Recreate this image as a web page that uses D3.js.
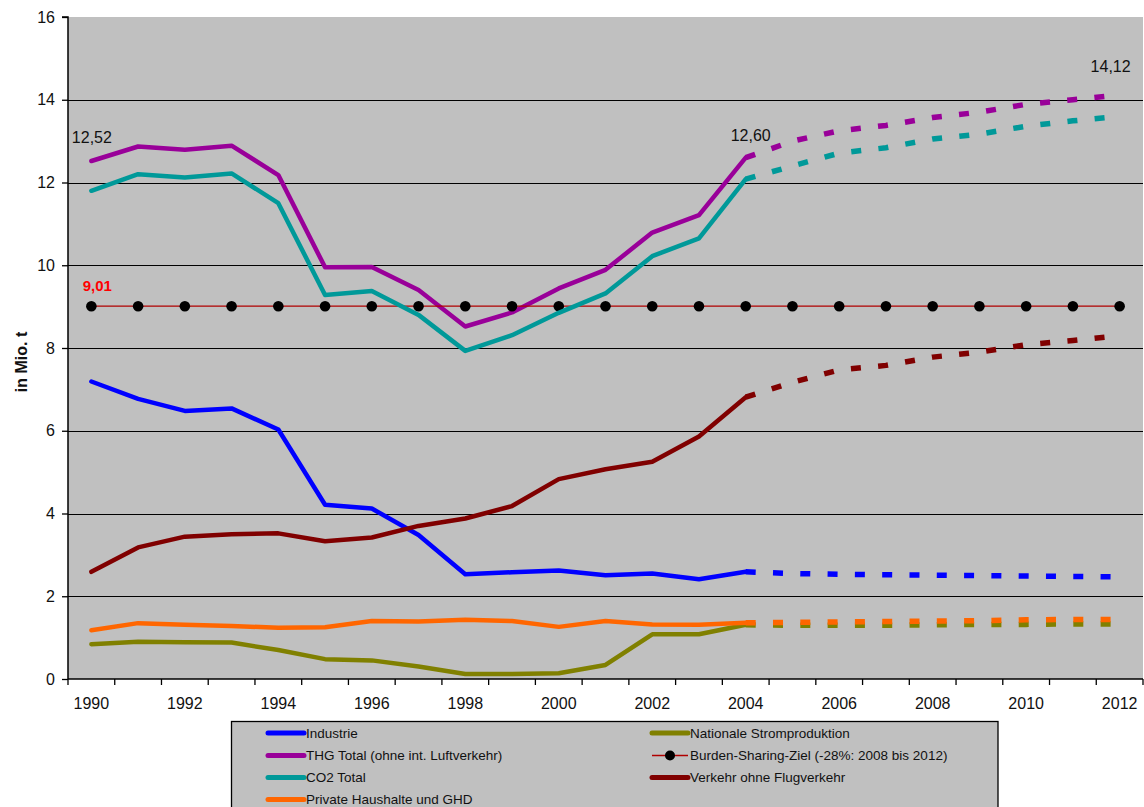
<!DOCTYPE html>
<html>
<head>
<meta charset="utf-8">
<script src="https://cdn.jsdelivr.net/npm/d3@7"></script>
<style>
  html, body { margin: 0; padding: 0; background: #ffffff; }
  svg { display: block; font-family: "Liberation Sans", Arial, sans-serif; }
</style>
</head>
<body>
<svg id="chart" width="1144" height="807"></svg>
<script>
// ---------------- DATA ----------------
const years = [1990,1991,1992,1993,1994,1995,1996,1997,1998,1999,2000,2001,2002,2003,2004,2005,2006,2007,2008,2009,2010,2011,2012];
const histYears = [1990,1991,1992,1993,1994,1995,1996,1997,1998,1999,2000,2001,2002,2003,2004];
const projYears = [2004,2005,2006,2007,2008,2009,2010,2011,2012];
const xTickLabels = [1990,1992,1994,1996,1998,2000,2002,2004,2006,2008,2010,2012];
const yTicks = [0,2,4,6,8,10,12,14,16];

const industrie = [7.19,6.77,6.48,6.54,6.03,4.21,4.12,3.48,2.53,2.58,2.62,2.51,2.55,2.41,2.59];
const strom     = [0.84,0.90,0.89,0.88,0.70,0.48,0.45,0.30,0.12,0.12,0.14,0.34,1.08,1.08,1.31];
const thg       = [12.52,12.87,12.79,12.89,12.18,9.95,9.96,9.40,8.52,8.86,9.44,9.89,10.79,11.21,12.60];
const co2       = [11.80,12.20,12.12,12.22,11.50,9.28,9.38,8.80,7.93,8.31,8.85,9.32,10.22,10.65,12.08];
const verkehr   = [2.59,3.18,3.44,3.50,3.52,3.33,3.42,3.70,3.88,4.18,4.83,5.07,5.25,5.86,6.81];
const privat    = [1.18,1.35,1.31,1.28,1.24,1.25,1.40,1.39,1.43,1.40,1.26,1.40,1.32,1.31,1.36];
const burden    = [9.01,9.01,9.01,9.01,9.01,9.01,9.01,9.01,9.01,9.01,9.01,9.01,9.01,9.01,9.01,9.01,9.01,9.01,9.01,9.01,9.01,9.01,9.01];

const industrieProj = [2.59,2.55,2.53,2.52,2.51,2.50,2.49,2.48,2.47];
const stromProj     = [1.31,1.30,1.30,1.30,1.31,1.32,1.32,1.33,1.33];
const thgProj       = [12.60,13.00,13.25,13.38,13.57,13.70,13.89,14.00,14.12];
const co2Proj       = [12.08,12.40,12.71,12.84,13.05,13.17,13.36,13.49,13.60];
const verkehrProj   = [6.81,7.17,7.47,7.58,7.78,7.90,8.08,8.18,8.30];
const privatProj    = [1.36,1.37,1.38,1.39,1.40,1.41,1.43,1.44,1.44];

const seriesNames = ["Industrie","Nationale Stromproduktion","THG Total (ohne int. Luftverkehr)","Burden-Sharing-Ziel (-28%: 2008 bis 2012)","CO2 Total","Verkehr ohne Flugverkehr","Private Haushalte und GHD"];
const seriesColors = ["#0000FF","#808000","#990099","#8B0000","#009999","#800000","#FF6600"];

const labelThgStart = "12,52";
const labelThg2004 = "12,60";
const labelThg2012 = "14,12";
const labelBurden = "9,01";
const yTitle = "in Mio. t";

// ---------------- LAYOUT ----------------
const svg = d3.select("#chart");
const L = 68, R = 1143, T = 17, B = 679;

const x = d3.scaleBand().domain(years).range([L, R]).padding(0);
const cx = d => x(d) + x.bandwidth() / 2;
const y = d3.scaleLinear().domain([0, 16]).range([B, T]);

// plot background
svg.append("rect").attr("x", L).attr("y", T).attr("width", R - L).attr("height", B - T).attr("fill", "#C0C0C0");

// gridlines
svg.append("g").selectAll("line").data(yTicks.filter(v => v > 0 && v < 16)).join("line")
  .attr("x1", L).attr("x2", R).attr("y1", d => Math.round(y(d)) + 0.5).attr("y2", d => Math.round(y(d)) + 0.5)
  .attr("stroke", "#000").attr("stroke-width", 1.2);

// y axis
const yAxis = svg.append("g").attr("transform", `translate(${L},0)`)
  .call(d3.axisLeft(y).tickValues(yTicks).tickSize(6).tickPadding(7).tickFormat(d3.format("d")));
yAxis.select(".domain").attr("stroke", "#000").attr("stroke-width", 1.5).attr("d", `M-6,${T}H0V${B}`);
yAxis.selectAll(".tick line").attr("stroke", "#000").attr("stroke-width", 1.3);
yAxis.selectAll(".tick text").attr("font-size", 16).attr("fill", "#111");

// x axis: baseline + tick marks at band edges
svg.append("line").attr("x1", L).attr("x2", R).attr("y1", B).attr("y2", B)
  .attr("stroke", "#000").attr("stroke-width", 1.5);
const edges = years.map(d => x(d)).concat([R]);
svg.append("g").selectAll("line").data(edges).join("line")
  .attr("x1", d => d).attr("x2", d => d).attr("y1", B).attr("y2", B + 6)
  .attr("stroke", "#000").attr("stroke-width", 1.3);
const xAxis = svg.append("g").attr("transform", `translate(0,${B})`)
  .call(d3.axisBottom(x).tickValues(xTickLabels).tickSize(0).tickPadding(19));
xAxis.select(".domain").remove();
xAxis.selectAll(".tick text").attr("font-size", 16).attr("fill", "#111");

// y title
svg.append("text").attr("transform", "translate(21,362) rotate(-90)")
  .attr("text-anchor", "middle").attr("dominant-baseline", "central")
  .attr("font-size", 16).attr("font-weight", "bold").attr("fill", "#111").text(yTitle);

// ---------------- LINES ----------------
const line = d3.line().x(d => cx(d[0])).y(d => y(d[1]));
const hist = [industrie, strom, thg, null, co2, verkehr, privat];
const proj = [industrieProj, stromProj, thgProj, null, co2Proj, verkehrProj, privatProj];

const g = svg.append("g");
hist.forEach((vals, i) => {
  if (i === 3) {
    const pts = years.map((yr, k) => [yr, burden[k]]);
    g.append("path").attr("d", line(pts)).attr("fill", "none")
      .attr("stroke", "#B00000").attr("stroke-width", 1.3);
    g.append("g").selectAll("circle").data(pts).join("circle")
      .attr("cx", d => cx(d[0])).attr("cy", d => y(d[1])).attr("r", 5.3).attr("fill", "#000");
    return;
  }
  const pv = proj[i];
  g.append("path").attr("d", line(projYears.map((yr, k) => [yr, pv[k]])))
    .attr("fill", "none").attr("stroke", seriesColors[i]).attr("stroke-width", 5.5)
    .attr("stroke-dasharray", "10,17.3");
  g.append("path").attr("d", line(histYears.map((yr, k) => [yr, vals[k]])))
    .attr("fill", "none").attr("stroke", seriesColors[i]).attr("stroke-width", 4.5)
    .attr("stroke-linejoin", "round").attr("stroke-linecap", "round");
});

// ---------------- LABELS ----------------
const lab = (txt, xv, yv, dx, dy, color, bold) => svg.append("text")
  .attr("x", cx(xv) + dx).attr("y", y(yv) + dy)
  .attr("text-anchor", "middle").attr("dominant-baseline", "central")
  .attr("font-size", 16).attr("font-weight", bold ? "bold" : "normal")
  .attr("fill", color).text(txt);
lab(labelThgStart, 1990, thg[0], 0.5, -23.5, "#111", false);
lab(labelThg2004, 2004, thg[14], 5, -22, "#111", false);
lab(labelThg2012, 2012, thgProj[8], -9, -28, "#111", false);
lab(labelBurden, 1990, burden[0], 6, -21, "#FF0000", true).attr("font-size", 15);

// ---------------- LEGEND ----------------
const lg = svg.append("g");
lg.append("rect").attr("x", 231.5).attr("y", 721.5).attr("width", 766.5).attr("height", 100)
  .attr("fill", "#C0C0C0").attr("stroke", "#000").attr("stroke-width", 1.3);
const legendPos = [
  [268, 733], [652, 733],
  [268, 755.5], [652, 755.5],
  [268, 777.5], [652, 777.5],
  [268, 799.5]
];
seriesNames.forEach((name, i) => {
  const [lx, ly] = legendPos[i];
  if (i === 3) {
    lg.append("line").attr("x1", lx).attr("x2", lx + 36).attr("y1", ly).attr("y2", ly)
      .attr("stroke", "#B00000").attr("stroke-width", 1.3);
    lg.append("circle").attr("cx", lx + 18).attr("cy", ly).attr("r", 5).attr("fill", "#000");
  } else {
    lg.append("line").attr("x1", lx).attr("x2", lx + 36).attr("y1", ly).attr("y2", ly)
      .attr("stroke", seriesColors[i]).attr("stroke-width", 5).attr("stroke-linecap", "round");
  }
  lg.append("text").attr("x", lx + 38).attr("y", ly).attr("dominant-baseline", "central")
    .attr("font-size", 13.5).attr("fill", "#111").text(name);
});
</script>
</body>
</html>
